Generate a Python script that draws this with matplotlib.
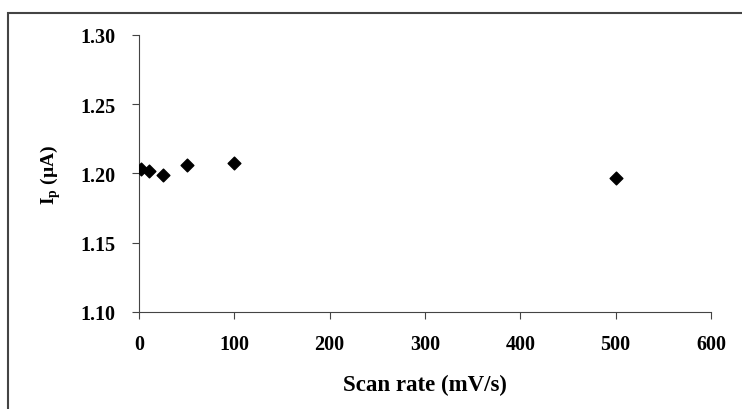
import matplotlib.pyplot as plt
from matplotlib.patches import Rectangle

# scan rate vs peak current
scan_rate = [2, 10, 25, 50, 100, 500]
peak_current = [1.203, 1.2015, 1.199, 1.206, 1.2075, 1.1968]
y_ticks = [1.10, 1.15, 1.20, 1.25, 1.30]

plt.rcParams['font.family'] = ['Liberation Serif', 'DejaVu Serif']
plt.rcParams['font.weight'] = 'bold'
plt.rcParams['mathtext.fontset'] = 'custom'
plt.rcParams['mathtext.rm'] = 'Liberation Serif'
plt.rcParams['mathtext.bf'] = 'Liberation Serif:bold'

fig = plt.figure(figsize=(7.42, 4.10), dpi=100)
ax = fig.add_axes([0.1873, 0.2366, 0.9582 - 0.1873, 0.9122 - 0.2366])

ax.scatter(scan_rate, peak_current, marker='D', s=42, color='black', zorder=3)

ax.set_xlim(0, 600)
ax.set_ylim(1.10, 1.30)
ax.set_xticks(range(0, 601, 100))
ax.set_yticks(y_ticks)
ax.set_yticklabels([f"{v:.2f}" for v in y_ticks])
ax.tick_params(labelsize=14.5, length=5, width=0.8, direction='out', color='#444444')
for lab in ax.get_xticklabels() + ax.get_yticklabels():
    lab.set_fontweight('bold')
ax.tick_params(axis='x', pad=11)
ax.tick_params(axis='y', pad=12)

for s in ['top', 'right']:
    ax.spines[s].set_visible(False)
for s in ['left', 'bottom']:
    ax.spines[s].set_linewidth(0.8)
    ax.spines[s].set_color('#444444')

ax.set_xlabel('Scan rate (mV/s)', fontsize=16.5, fontweight='bold', labelpad=14)
ax.set_ylabel(r'I$_\mathregular{p}$ (µA)', fontsize=14, fontweight='bold', labelpad=12)

# outer frame
fig.patches.append(Rectangle((8 / 742, -0.1), 1.2, 1 - 14 / 410 + 0.1,
                             transform=fig.transFigure, fill=False,
                             edgecolor='#444444', linewidth=1.5))

fig.savefig('out.png', dpi=100)
